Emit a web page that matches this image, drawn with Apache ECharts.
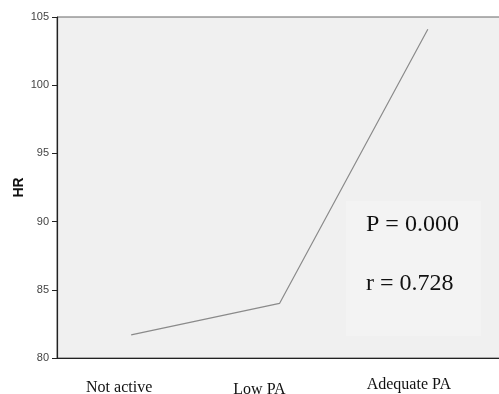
<!DOCTYPE html>
<html><head><meta charset="utf-8">
<script src="https://cdn.jsdelivr.net/npm/echarts@6/dist/echarts.min.js"></script>
<style>html,body{margin:0;padding:0;background:#fff}#c{width:499px;height:394px}</style>
</head><body><div id="c"></div>
<script>
const categories = ['Not active', 'Low PA', 'Adequate PA'];
const hrValues = [81.7, 84.0, 104.1];
const yTicks = [80, 85, 90, 95, 100, 105];
const annotations = ['P = 0.000', 'r = 0.728'];

const chart = echarts.init(document.getElementById('c'));
chart.setOption({
  animation: false,
  grid: { left: 57, top: 17, bottom: 36, right: -3, outerBoundsMode: 'none', containLabel: false, show: true, backgroundColor: '#f0f0f0', borderColor: '#666', borderWidth: 1 },
  xAxis: {
    type: 'category', data: categories, boundaryGap: true,
    axisLine: { lineStyle: { color: '#222', width: 1.2 } },
    axisTick: { alignWithLabel: true, length: 5, lineStyle: { color: '#222' } },
    axisLabel: {
      margin: 20,
      formatter: function (v, i) { return '{s' + i + '|' + v + '}'; },
      rich: {
        s0: { fontFamily: 'Liberation Serif', fontSize: 16, color: '#111', padding: [2, 24, 0, 0] },
        s1: { fontFamily: 'Liberation Serif', fontSize: 16, color: '#111', padding: [4, 40, 0, 0] },
        s2: { fontFamily: 'Liberation Serif', fontSize: 16, color: '#111', padding: [-1, 38, 0, 0] }
      }
    }
  },
  yAxis: {
    type: 'value', min: yTicks[0], max: yTicks[yTicks.length - 1], interval: 5,
    name: 'HR', nameLocation: 'middle', nameGap: 31, nameMoveOverlap: false,
    nameTextStyle: { fontFamily: 'Liberation Sans', fontWeight: 'bold', fontSize: 14, color: '#111' },
    axisLine: { show: true, lineStyle: { color: '#222', width: 1.2 } },
    axisTick: { show: true, length: 5, lineStyle: { color: '#222' } },
    splitLine: { show: false },
    axisLabel: { fontFamily: 'Liberation Sans', fontSize: 11, color: '#444', margin: 8 }
  },
  series: [{
    type: 'line', data: hrValues, symbol: 'none',
    lineStyle: { color: '#8a8a8a', width: 1.2 }
  }],
  graphic: [
    { type: 'rect', shape: { x: 346, y: 201, width: 135, height: 135 }, style: { fill: '#f3f3f3' }, z: 10 },
    { type: 'text', x: 366, y: 225, style: { text: annotations[0], fontFamily: 'Liberation Serif', fontSize: 24, fill: '#111', verticalAlign: 'middle' }, z: 11 },
    { type: 'text', x: 366, y: 284, style: { text: annotations[1], fontFamily: 'Liberation Serif', fontSize: 24, fill: '#111', verticalAlign: 'middle' }, z: 11 }
  ]
});
</script></body></html>
